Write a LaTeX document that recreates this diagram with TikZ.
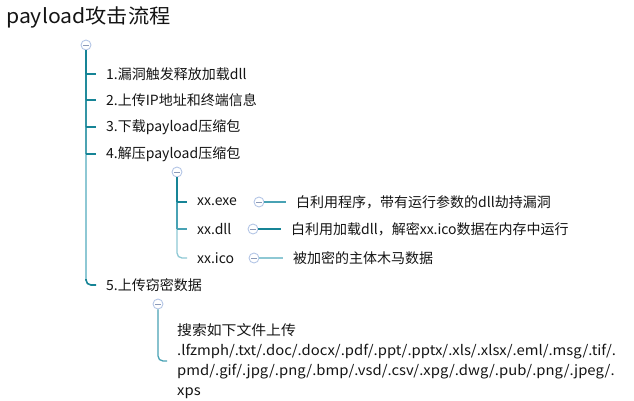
\documentclass[tikz,border=0pt]{standalone}
\usepackage{fontspec}
\setmainfont{Noto Sans CJK SC}
\newfontfamily\listfont{Noto Sans CJK SC}[FakeStretch=1.06]
\usetikzlibrary{positioning}
\definecolor{branchdark}{RGB}{22,132,150}
\definecolor{branchmid}{RGB}{72,162,180}
\definecolor{branchlight}{RGB}{142,200,212}
\definecolor{foldring}{RGB}{180,198,230}
\definecolor{foldbar}{RGB}{140,154,184}
\definecolor{inktext}{RGB}{20,20,20}
\tikzset{
  fold/.style={circle, draw=foldring, fill=white, line width=0.9pt,
    minimum size=10pt, inner sep=0pt,
    path picture={\draw[foldbar, line width=0.8pt]
      ([xshift=-2.6pt]path picture bounding box.center) --
      ([xshift=2.6pt]path picture bounding box.center);}},
  leaf/.style={anchor=west, inner xsep=10pt, inner ysep=1pt,
    font=\fontsize{14}{20}\selectfont, text=inktext},
  branch/.style={line width=1.6pt, draw=branchdark},
}
\begin{document}
\begin{tikzpicture}[x=1pt,y=-1pt]
  \useasboundingbox (0,0) rectangle (634,400);
  \node[anchor=west, inner sep=0pt, font=\fontsize{20}{24}\listfont, text=inktext] (title) at (6,17) {payload攻击流程};
  \node[fold] (root) at (86,45) {};
  \node[leaf] (i1) at (96,74) {1.漏洞触发释放加载dll};
  \node[leaf] (i2) at (96,100) {2.上传IP地址和终端信息};
  \node[leaf] (i3) at (96,127) {3.下载payload压缩包};
  \node[leaf] (i4) at (96,154) {4.解压payload压缩包};
  \node[leaf] (i5) at (96,285) {5.上传窃密数据};
  \node[fold] (f4) at (177,172) {};
  \node[leaf] (e1) at (187,202) {xx.exe};
  \node[leaf] (e2) at (187,229) {xx.dll};
  \node[leaf] (e3) at (187,258) {xx.ico};
  \node[fold] (fe1) at (259,202) {};
  \node[fold] (fe2) at (253,229) {};
  \node[fold] (fe3) at (254,258) {};
  \node[leaf] (d1) at (286,202) {白利用程序，带有运行参数的dll劫持漏洞};
  \node[leaf] (d2) at (281,229) {白利用加载dll，解密xx.ico数据在内存中运行};
  \node[leaf] (d3) at (283,258) {被加密的主体木马数据};
  \node[fold] (f5) at (158,304) {};
  \node[leaf, align=left, font=\fontsize{14}{20}\listfont] (u1) at (167,361) {搜索如下文件上传\\.lfzmph/.txt/.doc/.docx/.pdf/.ppt/.pptx/.xls/.xlsx/.eml/.msg/.tif/.\\pmd/.gif/.jpg/.png/.bmp/.vsd/.csv/.xpg/.dwg/.pub/.png/.jpeg/.\\xps};
  \begin{scope}[branch]
    \draw (root.south) -- (root.south |- i1.west);
    \draw[draw=branchdark!90!branchlight] (root.south |- i1.west) -- (root.south |- i2.west);
    \draw[draw=branchdark!75!branchlight] (root.south |- i2.west) -- (root.south |- i3.west);
    \draw[draw=branchdark!55!branchlight] (root.south |- i3.west) -- (root.south |- i4.west);
    \draw[draw=branchlight] (root.south |- i4.west) -- ([yshift=6pt]root.south |- i5.west);
    \draw[rounded corners=5pt] ([yshift=6pt]root.south |- i5.west) |- (i5.west);
    \draw (root.south |- i1.west) -- (i1.west);
    \draw (root.south |- i2.west) -- (i2.west);
    \draw (root.south |- i3.west) -- (i3.west);
    \draw (root.south |- i4.west) -- (i4.west);
  \end{scope}
  \begin{scope}[branch, line width=1.3pt]
    \draw (f4.south) -- (f4.south |- e1.west);
    \draw[draw=branchmid] (f4.south |- e1.west) -- (f4.south |- e2.west);
    \draw[draw=branchlight, rounded corners=5pt] (f4.south |- e2.west) |- (e3.west);
    \draw (f4.south |- e1.west) -- (e1.west);
    \draw[draw=branchmid] (f4.south |- e2.west) -- (e2.west);
    \draw[draw=branchmid] (fe1.east) -- (d1.west);
    \draw (fe2.east) -- (d2.west);
    \draw[draw=branchlight] (fe3.east) -- (d3.west);
    \draw[draw=branchmid, rounded corners=5pt] (f5.south) |- (u1.west);
  \end{scope}
\end{tikzpicture}
\end{document}
